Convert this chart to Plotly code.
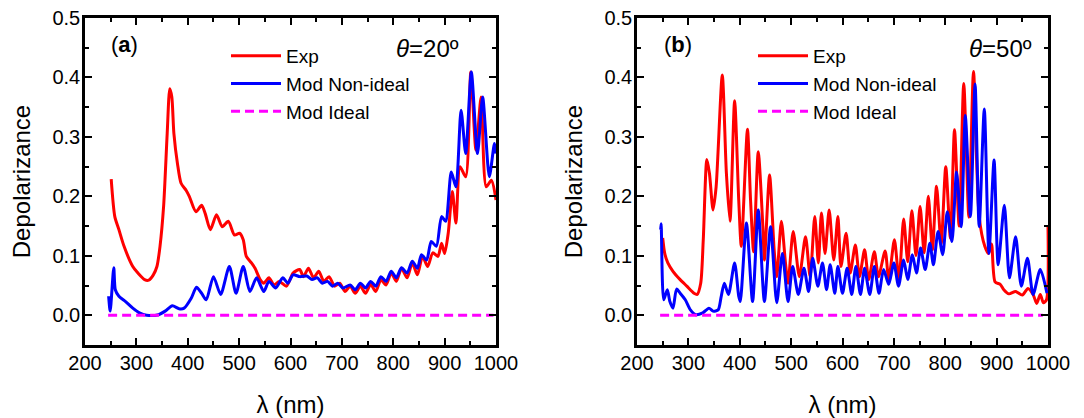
import plotly.graph_objects as go

# ---------------- data: panel (a) theta = 20 deg ----------------
lam_a_exp = [251, 258, 266, 276, 293, 303, 316, 324, 333, 340, 346, 353, 360, 365, 369, 373, 380, 387,
             397, 403, 416, 427, 434, 444, 456, 467, 479, 491, 501, 508, 514, 524, 531, 541, 548, 558,
             568, 578, 592, 605, 618, 625, 635, 645, 655, 665, 675, 686, 696, 706, 716, 726, 736, 746,
             756, 766, 776, 786, 796, 806, 816, 827, 837, 847, 857, 867, 877, 887, 894, 900, 907, 915,
             922, 930, 941, 951, 961, 971, 981, 991, 1000]
dep_a_exp = [0.229, 0.166, 0.144, 0.116, 0.082, 0.071, 0.060, 0.059, 0.068, 0.082, 0.116, 0.183, 0.306,
             0.381, 0.367, 0.306, 0.255, 0.222, 0.210, 0.200, 0.174, 0.185, 0.171, 0.144, 0.169, 0.149,
             0.158, 0.135, 0.138, 0.127, 0.099, 0.088, 0.079, 0.060, 0.054, 0.063, 0.051, 0.057, 0.049,
             0.071, 0.077, 0.065, 0.079, 0.063, 0.074, 0.057, 0.065, 0.049, 0.054, 0.040, 0.049, 0.037,
             0.049, 0.037, 0.052, 0.040, 0.060, 0.051, 0.071, 0.057, 0.079, 0.063, 0.088, 0.068, 0.099,
             0.082, 0.105, 0.099, 0.121, 0.104, 0.138, 0.208, 0.155, 0.250, 0.233, 0.409, 0.278, 0.367,
             0.216, 0.227, 0.194]

lam_a_non = [246, 249, 256, 259, 266, 279, 293, 306, 320, 343, 356, 370, 383, 393, 407, 417, 427, 436,
             450, 464, 481, 494, 508, 521, 534, 548, 558, 571, 585, 595, 605, 618, 632, 642, 652, 662,
             672, 682, 692, 702, 716, 726, 736, 746, 756, 766, 776, 786, 796, 806, 816, 827, 837, 847,
             855, 865, 874, 884, 894, 902, 913, 922, 932, 941, 952, 964, 974, 987, 997, 1000]
dep_a_non = [0.032, 0.007, 0.080, 0.043, 0.032, 0.023, 0.012, 0.004, 0.000, 0.001, 0.007, 0.016, 0.011,
             0.012, 0.029, 0.047, 0.037, 0.026, 0.065, 0.035, 0.082, 0.037, 0.082, 0.040, 0.063, 0.040,
             0.057, 0.046, 0.063, 0.054, 0.068, 0.065, 0.066, 0.060, 0.063, 0.054, 0.057, 0.049, 0.054,
             0.046, 0.051, 0.043, 0.054, 0.046, 0.057, 0.049, 0.065, 0.057, 0.074, 0.063, 0.080, 0.071,
             0.091, 0.079, 0.102, 0.093, 0.124, 0.116, 0.166, 0.158, 0.241, 0.216, 0.345, 0.272, 0.409,
             0.272, 0.367, 0.233, 0.289, 0.272]

lam_a_ideal = [245, 995]
dep_a_ideal = [0.0, 0.0]

# ---------------- data: panel (b) theta = 50 deg ----------------
lam_b_exp = [250, 254, 260, 270, 284, 297, 311, 317, 324, 329, 336, 341, 348, 354, 366, 374, 381, 390,
             398, 403, 415, 421, 427, 436, 445, 448, 458, 467, 472, 481, 489, 494, 504, 516, 528, 537,
             546, 553, 559, 566, 574, 583, 591, 597, 607, 615, 625, 633, 643, 651, 662, 670, 683, 690,
             701, 710, 719, 727, 735, 743, 751, 759, 767, 775, 783, 792, 801, 810, 818, 827, 836, 846,
             855, 866, 877, 884, 890, 897, 907, 914, 924, 937, 950, 961, 971, 978, 985, 991, 997, 1000]
dep_b_exp = [0.130, 0.104, 0.088, 0.074, 0.060, 0.049, 0.037, 0.035, 0.054, 0.127, 0.262, 0.239, 0.177,
             0.216, 0.404, 0.239, 0.158, 0.361, 0.194, 0.116, 0.313, 0.194, 0.107, 0.275, 0.149, 0.093,
             0.236, 0.110, 0.065, 0.158, 0.088, 0.054, 0.141, 0.065, 0.132, 0.065, 0.166, 0.088, 0.172,
             0.104, 0.177, 0.093, 0.166, 0.082, 0.138, 0.071, 0.118, 0.065, 0.110, 0.060, 0.107, 0.065,
             0.108, 0.060, 0.127, 0.060, 0.162, 0.090, 0.176, 0.100, 0.183, 0.105, 0.200, 0.110, 0.217,
             0.120, 0.250, 0.130, 0.312, 0.150, 0.390, 0.165, 0.410, 0.166, 0.116, 0.104, 0.120, 0.056,
             0.052, 0.043, 0.036, 0.040, 0.034, 0.045, 0.035, 0.020, 0.035, 0.021, 0.026, 0.150]

lam_b_non = [246, 247, 252, 259, 264, 270, 277, 284, 294, 304, 314, 328, 340, 348, 358, 364, 370, 378,
             390, 398, 401, 413, 425, 436, 448, 460, 472, 483, 494, 503, 514, 525, 534, 542, 552, 561,
             569, 576, 585, 591, 600, 609, 618, 626, 635, 643, 653, 662, 671, 680, 690, 700, 709, 719,
             727, 736, 744, 752, 761, 770, 777, 786, 795, 804, 813, 822, 831, 839, 849, 858, 866, 876,
             885, 895, 903, 915, 925, 937, 948, 960, 971, 985, 998]
dep_b_non = [0.144, 0.154, 0.026, 0.043, 0.023, 0.012, 0.044, 0.037, 0.026, 0.009, 0.001, 0.004, 0.012,
             0.007, 0.009, 0.032, 0.054, 0.035, 0.088, 0.032, 0.023, 0.155, 0.023, 0.177, 0.023, 0.149,
             0.021, 0.104, 0.023, 0.082, 0.035, 0.079, 0.040, 0.096, 0.049, 0.088, 0.043, 0.085, 0.037,
             0.082, 0.037, 0.079, 0.035, 0.082, 0.035, 0.079, 0.035, 0.082, 0.037, 0.077, 0.052, 0.088,
             0.049, 0.093, 0.060, 0.102, 0.071, 0.113, 0.077, 0.121, 0.085, 0.141, 0.102, 0.174, 0.124,
             0.241, 0.149, 0.336, 0.166, 0.389, 0.149, 0.347, 0.104, 0.261, 0.085, 0.185, 0.063, 0.132,
             0.049, 0.096, 0.035, 0.077, 0.037]

lam_b_ideal = [245, 990]
dep_b_ideal = [0.0, 0.0]

# ---------------- labels ----------------
series_names = ["Exp", "Mod Non-ideal", "Mod Ideal"]
panel_labels = ["(<b>a</b>)", "(<b>b</b>)"]
angle_labels = ["<i>θ</i>=20º", "<i>θ</i>=50º"]
x_title = "λ (nm)"
y_title = "Depolarizance"

RED, BLUE, MAG = "#FF0000", "#0000FF", "#FF00FF"
FONT = "Liberation Sans, Arial, sans-serif"
W, H = 1084, 418
OFF = 8  # the page body adds an 8px margin; positions below are screen pixels

fig = go.Figure()
panels = [
    (lam_a_exp, dep_a_exp, lam_a_non, dep_a_non, lam_a_ideal, dep_a_ideal, "x", "y", "legend"),
    (lam_b_exp, dep_b_exp, lam_b_non, dep_b_non, lam_b_ideal, dep_b_ideal, "x2", "y2", "legend2"),
]
for le, de, ln, dn, li, di, xa, ya, lg in panels:
    fig.add_trace(go.Scatter(x=le, y=de, mode="lines", name=series_names[0], xaxis=xa, yaxis=ya,
                             legend=lg, line=dict(color=RED, width=3, shape="spline", smoothing=0.7)))
    fig.add_trace(go.Scatter(x=ln, y=dn, mode="lines", name=series_names[1], xaxis=xa, yaxis=ya,
                             legend=lg, line=dict(color=BLUE, width=3, shape="spline", smoothing=0.7)))
    fig.add_trace(go.Scatter(x=li, y=di, mode="lines", name=series_names[2], xaxis=xa, yaxis=ya,
                             legend=lg, line=dict(color=MAG, width=3, dash="9px,5px")))

def px_x(s):
    return (s - OFF) / W

def px_y(s):
    return 1 - (s - OFF) / H

common_x = dict(range=[200, 1000], dtick=100, tick0=200, ticks="inside", ticklen=7, tickwidth=2,
                tickcolor="black", showline=True, linewidth=2.5, linecolor="black", mirror="allticks",
                showgrid=False, zeroline=False, tickfont=dict(family=FONT, size=20, color="black"),
                ticklabelstandoff=-2, ticklabeloverflow="allow",
                minor=dict(dtick=50, ticks="inside", ticklen=4, tickwidth=2, tickcolor="black"),
                title=dict(text=x_title, font=dict(family=FONT, size=24, color="black"), standoff=24),
                automargin=False, fixedrange=True)
common_y = dict(range=[-0.05, 0.5], dtick=0.1, tick0=0, tickformat=".1f", ticks="inside", ticklen=7,
                tickwidth=2, tickcolor="black", showline=True, linewidth=2.5, linecolor="black",
                mirror="allticks", showgrid=False, zeroline=False,
                tickfont=dict(family=FONT, size=20, color="black"), ticklabelstandoff=-2,
                ticklabeloverflow="allow",
                minor=dict(dtick=0.05, ticks="inside", ticklen=4, tickwidth=2, tickcolor="black"),
                title=dict(text=y_title, font=dict(family=FONT, size=24, color="black"), standoff=16),
                domain=[px_y(345), px_y(18)], automargin=False, fixedrange=True)

legend_common = dict(xanchor="left", yanchor="top", bgcolor="rgba(0,0,0,0)",
                     font=dict(family=FONT, size=19, color="black"), tracegroupgap=0, itemwidth=50)

fig.update_layout(
    width=W, height=H, margin=dict(l=0, r=0, t=0, b=0, autoexpand=False),
    paper_bgcolor="white", plot_bgcolor="white",
    font=dict(family=FONT, color="black"),
    xaxis=dict(common_x, domain=[px_x(85), px_x(496)], anchor="y"),
    yaxis=dict(common_y, anchor="x"),
    xaxis2=dict(common_x, domain=[px_x(637), px_x(1048)], anchor="y2"),
    yaxis2=dict(common_y, anchor="x2"),
    legend=dict(legend_common, x=px_x(226), y=px_y(37)),
    legend2=dict(legend_common, x=px_x(753), y=px_y(37)),
    showlegend=True,
)

for i, (xc, xt) in enumerate([(124, 427), (678, 1000)]):
    fig.add_annotation(text=panel_labels[i], xref="paper", yref="paper", x=px_x(xc), y=px_y(45),
                       xanchor="center", yanchor="middle",
                       showarrow=False, font=dict(family=FONT, size=22, color="black"))
    fig.add_annotation(text=angle_labels[i], xref="paper", yref="paper", x=px_x(xt), y=px_y(48),
                       xanchor="center", yanchor="middle",
                       showarrow=False, font=dict(family=FONT, size=24, color="black"))

fig.write_html("out.html")
